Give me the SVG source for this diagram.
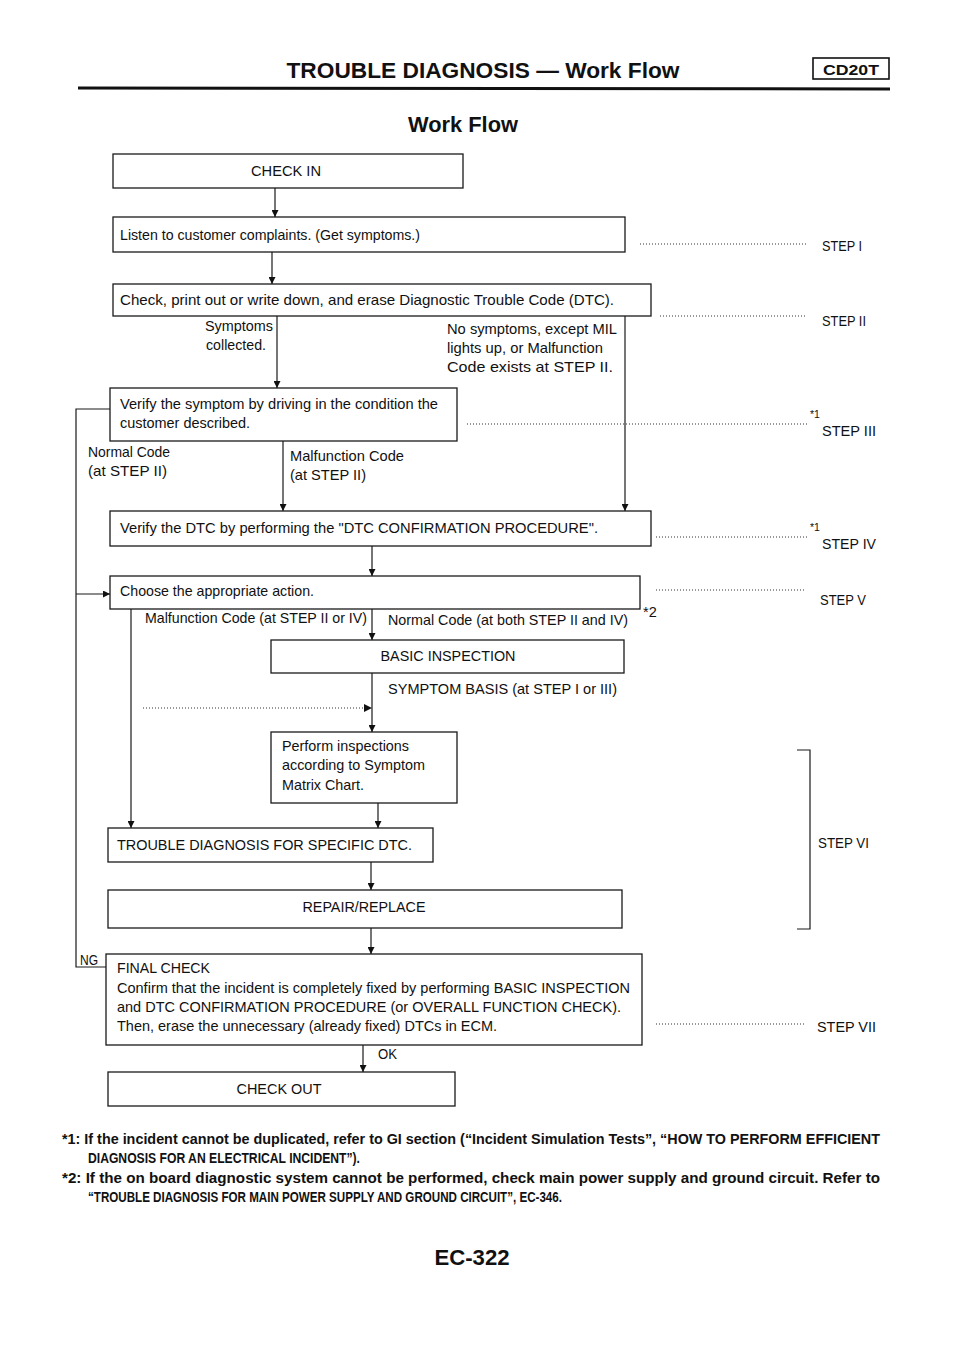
<svg xmlns="http://www.w3.org/2000/svg" width="960" height="1358" viewBox="0 0 960 1358">
<style>
.bx{fill:#fff;stroke:#1a1a1a;stroke-width:1.3}
.ln{fill:none;stroke:#1a1a1a;stroke-width:1.2}
.dt{fill:none;stroke:#333;stroke-width:1.1;stroke-dasharray:1 2}
.t{font-family:"Liberation Sans",Arial,sans-serif;font-size:14.5px;fill:#111}
.s{font-family:"Liberation Sans",Arial,sans-serif;font-size:10.5px;fill:#111}
.h{font-family:"Liberation Sans",Arial,sans-serif;font-weight:bold;fill:#111}
.fn{font-family:"Liberation Sans",Arial,sans-serif;font-weight:bold;font-size:14px;fill:#111}
</style>
<defs>
<marker id="ah" viewBox="0 0 10 10" refX="10" refY="5" markerWidth="8" markerHeight="7" markerUnits="userSpaceOnUse" orient="auto"><path d="M0,0 L10,5 L0,10 z" fill="#111"/></marker>
</defs>
<rect width="960" height="1358" fill="#fff"/>

<g id="header">
<text class="h" x="483" y="78" font-size="22" text-anchor="middle" textLength="393" lengthAdjust="spacingAndGlyphs">TROUBLE DIAGNOSIS — Work Flow</text>
<rect x="813" y="58" width="76" height="21" fill="none" stroke="#111" stroke-width="1.6"/>
<text class="h" x="851" y="75" font-size="15" text-anchor="middle" textLength="56" lengthAdjust="spacingAndGlyphs">CD20T</text>
<line x1="78" y1="88" x2="890" y2="89" stroke="#111" stroke-width="3"/>
<text class="h" x="463" y="132" font-size="22" text-anchor="middle" textLength="110" lengthAdjust="spacingAndGlyphs">Work Flow</text>
</g>

<g id="connectors">
<line class="ln" x1="275" y1="188" x2="275" y2="217" marker-end="url(#ah)"/>
<line class="ln" x1="272" y1="252" x2="272" y2="284" marker-end="url(#ah)"/>
<line class="ln" x1="277" y1="316" x2="277" y2="388" marker-end="url(#ah)"/>
<line class="ln" x1="625" y1="316" x2="625" y2="511" marker-end="url(#ah)"/>
<line class="ln" x1="283" y1="441" x2="283" y2="511" marker-end="url(#ah)"/>
<path class="ln" d="M110,409 H76 V967 H106"/>
<line class="ln" x1="76" y1="594" x2="110" y2="594" marker-end="url(#ah)"/>
<line class="ln" x1="372" y1="546" x2="372" y2="576" marker-end="url(#ah)"/>
<line class="ln" x1="372" y1="609" x2="372" y2="640" marker-end="url(#ah)"/>
<line class="ln" x1="131" y1="609" x2="131" y2="828" marker-end="url(#ah)"/>
<line class="ln" x1="372" y1="673" x2="372" y2="732" marker-end="url(#ah)"/>
<line class="dt" x1="143" y1="708" x2="371" y2="708"/>
<path d="M364,704 L372,708 L364,712 z" fill="#111"/>
<line class="ln" x1="378" y1="803" x2="378" y2="828" marker-end="url(#ah)"/>
<line class="ln" x1="371" y1="862" x2="371" y2="890" marker-end="url(#ah)"/>
<line class="ln" x1="371" y1="928" x2="371" y2="954" marker-end="url(#ah)"/>
<line class="ln" x1="363" y1="1045" x2="363" y2="1072" marker-end="url(#ah)"/>
</g>

<g id="labels">
<text class="t" x="273" y="331" text-anchor="end" textLength="68" lengthAdjust="spacingAndGlyphs">Symptoms</text>
<text class="t" x="266" y="350" text-anchor="end" textLength="60" lengthAdjust="spacingAndGlyphs">collected.</text>
<text class="t" x="447" y="334" textLength="170" lengthAdjust="spacingAndGlyphs">No symptoms, except MIL</text>
<text class="t" x="447" y="353" textLength="156" lengthAdjust="spacingAndGlyphs">lights up, or Malfunction</text>
<text class="t" x="447" y="372" textLength="166" lengthAdjust="spacingAndGlyphs">Code exists at STEP II.</text>
<text class="t" x="88" y="457" textLength="82" lengthAdjust="spacingAndGlyphs">Normal Code</text>
<text class="t" x="88" y="476" textLength="79" lengthAdjust="spacingAndGlyphs">(at STEP II)</text>
<text class="t" x="290" y="461" textLength="114" lengthAdjust="spacingAndGlyphs">Malfunction Code</text>
<text class="t" x="290" y="480" textLength="76" lengthAdjust="spacingAndGlyphs">(at STEP II)</text>
<text class="t" x="367" y="623" text-anchor="end" textLength="222" lengthAdjust="spacingAndGlyphs">Malfunction Code (at STEP II or IV)</text>
<text class="t" x="388" y="625" textLength="240" lengthAdjust="spacingAndGlyphs">Normal Code (at both STEP II and IV)</text>
<text class="t" x="388" y="694" textLength="229" lengthAdjust="spacingAndGlyphs">SYMPTOM BASIS (at STEP I or III)</text>
<text class="t" x="80" y="965" textLength="18" lengthAdjust="spacingAndGlyphs">NG</text>
<text class="t" x="378" y="1059" textLength="19" lengthAdjust="spacingAndGlyphs">OK</text>
</g>

<g id="n-checkin"><rect class="bx" x="113" y="154" width="350" height="34"/><text class="t" x="286" y="176" text-anchor="middle" textLength="70" lengthAdjust="spacingAndGlyphs">CHECK IN</text></g>
<g id="n-listen"><rect class="bx" x="113" y="217" width="512" height="35"/><text class="t" x="120" y="240" textLength="300" lengthAdjust="spacingAndGlyphs">Listen to customer complaints. (Get symptoms.)</text></g>
<g id="n-check"><rect class="bx" x="113" y="284" width="538" height="32"/><text class="t" x="120" y="305" textLength="494" lengthAdjust="spacingAndGlyphs">Check, print out or write down, and erase Diagnostic Trouble Code (DTC).</text></g>
<g id="n-verify-symptom"><rect class="bx" x="110" y="388" width="347" height="53"/><text class="t" x="120" y="409" textLength="318" lengthAdjust="spacingAndGlyphs">Verify the symptom by driving in the condition the</text><text class="t" x="120" y="428" textLength="130" lengthAdjust="spacingAndGlyphs">customer described.</text></g>
<g id="n-verify-dtc"><rect class="bx" x="110" y="511" width="541" height="35"/><text class="t" x="120" y="533" textLength="478" lengthAdjust="spacingAndGlyphs">Verify the DTC by performing the "DTC CONFIRMATION PROCEDURE".</text></g>
<g id="n-choose"><rect class="bx" x="110" y="576" width="530" height="33"/><text class="t" x="120" y="596" textLength="194" lengthAdjust="spacingAndGlyphs">Choose the appropriate action.</text></g>
<g id="n-basic"><rect class="bx" x="271" y="640" width="353" height="33"/><text class="t" x="448" y="661" text-anchor="middle" textLength="135" lengthAdjust="spacingAndGlyphs">BASIC INSPECTION</text></g>
<g id="n-perform"><rect class="bx" x="271" y="732" width="186" height="71"/><text class="t" x="282" y="751" textLength="127" lengthAdjust="spacingAndGlyphs">Perform inspections</text><text class="t" x="282" y="770" textLength="143" lengthAdjust="spacingAndGlyphs">according to Symptom</text><text class="t" x="282" y="790" textLength="82" lengthAdjust="spacingAndGlyphs">Matrix Chart.</text></g>
<g id="n-trouble"><rect class="bx" x="108" y="828" width="325" height="34"/><text class="t" x="117" y="850" textLength="295" lengthAdjust="spacingAndGlyphs">TROUBLE DIAGNOSIS FOR SPECIFIC DTC.</text></g>
<g id="n-repair"><rect class="bx" x="108" y="890" width="514" height="38"/><text class="t" x="364" y="912" text-anchor="middle" textLength="123" lengthAdjust="spacingAndGlyphs">REPAIR/REPLACE</text></g>
<g id="n-final"><rect class="bx" x="106" y="954" width="536" height="91"/>
<text class="t" x="117" y="973" textLength="93" lengthAdjust="spacingAndGlyphs">FINAL CHECK</text>
<text class="t" x="117" y="993" textLength="513" lengthAdjust="spacingAndGlyphs">Confirm that the incident is completely fixed by performing BASIC INSPECTION</text>
<text class="t" x="117" y="1012" textLength="504" lengthAdjust="spacingAndGlyphs">and DTC CONFIRMATION PROCEDURE (or OVERALL FUNCTION CHECK).</text>
<text class="t" x="117" y="1031" textLength="380" lengthAdjust="spacingAndGlyphs">Then, erase the unnecessary (already fixed) DTCs in ECM.</text></g>
<g id="n-checkout"><rect class="bx" x="108" y="1072" width="347" height="34"/><text class="t" x="279" y="1094" text-anchor="middle" textLength="85" lengthAdjust="spacingAndGlyphs">CHECK OUT</text></g>

<g id="steps">
<line class="dt" x1="640" y1="244" x2="806" y2="244"/>
<text class="t" x="822" y="251" textLength="40" lengthAdjust="spacingAndGlyphs">STEP I</text>
<line class="dt" x1="660" y1="316" x2="806" y2="316"/>
<text class="t" x="822" y="326" textLength="44" lengthAdjust="spacingAndGlyphs">STEP II</text>
<line class="dt" x1="467" y1="424" x2="808" y2="424"/>
<text class="s" x="810" y="418">*1</text>
<text class="t" x="822" y="436" textLength="54" lengthAdjust="spacingAndGlyphs">STEP III</text>
<line class="dt" x1="656" y1="537" x2="808" y2="537"/>
<text class="s" x="810" y="531">*1</text>
<text class="t" x="822" y="549" textLength="54" lengthAdjust="spacingAndGlyphs">STEP IV</text>
<line class="dt" x1="656" y1="590" x2="806" y2="590"/>
<text class="t" x="820" y="605" textLength="46" lengthAdjust="spacingAndGlyphs">STEP V</text>
<text class="t" x="643" y="617" font-size="12">*2</text>
<path class="ln" d="M797,750 H810 V929 H797"/>
<text class="t" x="818" y="848" textLength="51" lengthAdjust="spacingAndGlyphs">STEP VI</text>
<line class="dt" x1="656" y1="1024" x2="806" y2="1024"/>
<text class="t" x="817" y="1032" textLength="59" lengthAdjust="spacingAndGlyphs">STEP VII</text>
</g>

<g id="footnotes">
<text class="fn" x="62" y="1144" textLength="818" lengthAdjust="spacingAndGlyphs">*1: If the incident cannot be duplicated, refer to GI section (“Incident Simulation Tests”, “HOW TO PERFORM EFFICIENT</text>
<text class="fn" x="88" y="1163" textLength="272" lengthAdjust="spacingAndGlyphs">DIAGNOSIS FOR AN ELECTRICAL INCIDENT”).</text>
<text class="fn" x="62" y="1183" textLength="818" lengthAdjust="spacingAndGlyphs">*2: If the on board diagnostic system cannot be performed, check main power supply and ground circuit. Refer to</text>
<text class="fn" x="88" y="1202" textLength="474" lengthAdjust="spacingAndGlyphs">“TROUBLE DIAGNOSIS FOR MAIN POWER SUPPLY AND GROUND CIRCUIT”, EC-346.</text>
<text class="h" x="472" y="1265" font-size="22" text-anchor="middle" textLength="75" lengthAdjust="spacingAndGlyphs">EC-322</text>
</g>
</svg>
